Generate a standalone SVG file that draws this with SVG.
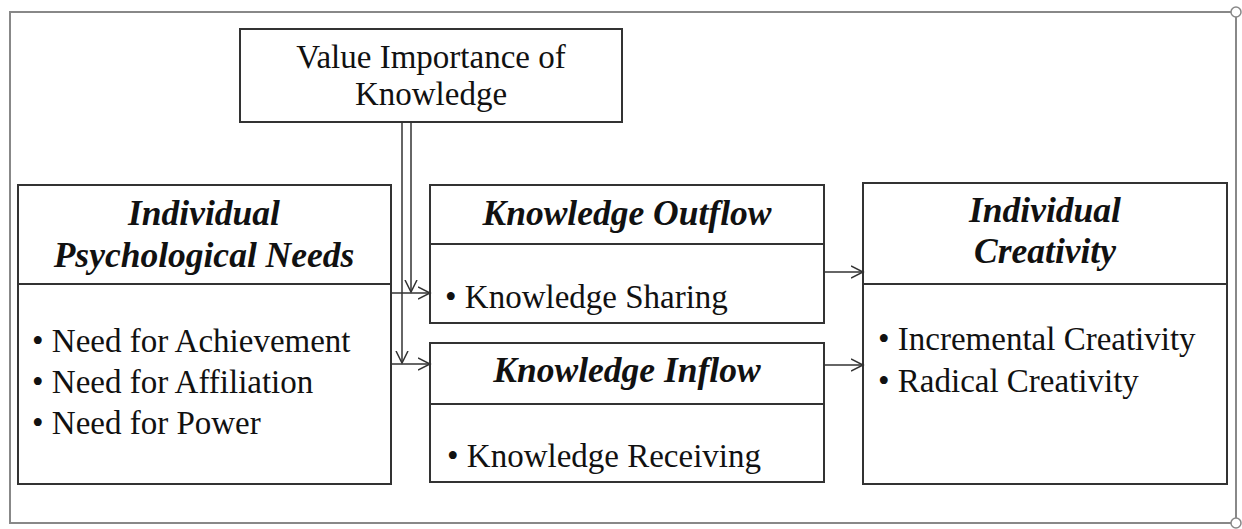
<svg xmlns="http://www.w3.org/2000/svg" width="1242" height="529" viewBox="0 0 1242 529">
<style>
.box{fill:#fff;stroke:#333;stroke-width:2}
.div{stroke:#333;stroke-width:2}
.t{font-family:"Liberation Serif","Times New Roman",serif;font-size:33px;fill:#111}
.h{font-family:"Liberation Serif","Times New Roman",serif;font-size:35.5px;font-weight:bold;font-style:italic;fill:#111}
.c{stroke:#333;stroke-width:1.5;fill:none}
</style>
<defs>
<marker id="arr" markerUnits="userSpaceOnUse" markerWidth="14" markerHeight="14" refX="12" refY="6" orient="auto" viewBox="0 0 14 12">
<path d="M0,0 L12,6 L0,12" fill="none" stroke="#333" stroke-width="1.5"/>
</marker>
</defs>
<rect x="0" y="0" width="1242" height="529" fill="#fff"/>
<rect id="frame" x="10" y="12" width="1226" height="511" fill="none" stroke="#888" stroke-width="2"/>
<circle cx="1236" cy="12" r="5" fill="#fff" stroke="#888" stroke-width="1.5"/>
<circle cx="1236" cy="523" r="5" fill="#fff" stroke="#888" stroke-width="1.5"/>

<g id="value">
<rect class="box" x="240" y="29" width="382" height="93"/>
<text class="t" x="431" y="68" text-anchor="middle">Value Importance of</text>
<text class="t" x="431" y="105" text-anchor="middle">Knowledge</text>
</g>

<g id="needs">
<rect class="box" x="18" y="185" width="373" height="299"/>
<line class="div" x1="18" y1="284" x2="391" y2="284"/>
<text class="h" x="204" y="225" text-anchor="middle">Individual</text>
<text class="h" x="204" y="267" text-anchor="middle">Psychological Needs</text>
<text class="t" x="32" y="352">• Need for Achievement</text>
<text class="t" x="32" y="393">• Need for Affiliation</text>
<text class="t" x="32" y="434">• Need for Power</text>
</g>

<g id="outflow">
<rect class="box" x="430" y="185" width="394" height="138"/>
<line class="div" x1="430" y1="244" x2="824" y2="244"/>
<text class="h" x="627" y="225" text-anchor="middle">Knowledge Outflow</text>
<text class="t" x="445" y="308">• Knowledge Sharing</text>
</g>

<g id="inflow">
<rect class="box" x="430" y="343" width="394" height="139"/>
<line class="div" x1="430" y1="404" x2="824" y2="404"/>
<text class="h" x="627" y="382" text-anchor="middle">Knowledge Inflow</text>
<text class="t" x="447" y="467">• Knowledge Receiving</text>
</g>

<g id="creativity">
<rect class="box" x="863" y="183" width="364" height="301"/>
<line class="div" x1="863" y1="284" x2="1227" y2="284"/>
<text class="h" x="1045" y="222" text-anchor="middle">Individual</text>
<text class="h" x="1045" y="263" text-anchor="middle">Creativity</text>
<text class="t" x="878" y="350">• Incremental Creativity</text>
<text class="t" x="878" y="392">• Radical Creativity</text>
</g>

<g id="connectors">
<line class="c" x1="411" y1="122" x2="411" y2="292" marker-end="url(#arr)"/>
<line class="c" x1="402" y1="122" x2="402" y2="363" marker-end="url(#arr)"/>
<line class="c" x1="391" y1="293" x2="430" y2="293" marker-end="url(#arr)"/>
<line class="c" x1="391" y1="364" x2="430" y2="364" marker-end="url(#arr)"/>
<line class="c" x1="824" y1="272" x2="863" y2="272" marker-end="url(#arr)"/>
<line class="c" x1="824" y1="365" x2="863" y2="365" marker-end="url(#arr)"/>
</g>
</svg>
